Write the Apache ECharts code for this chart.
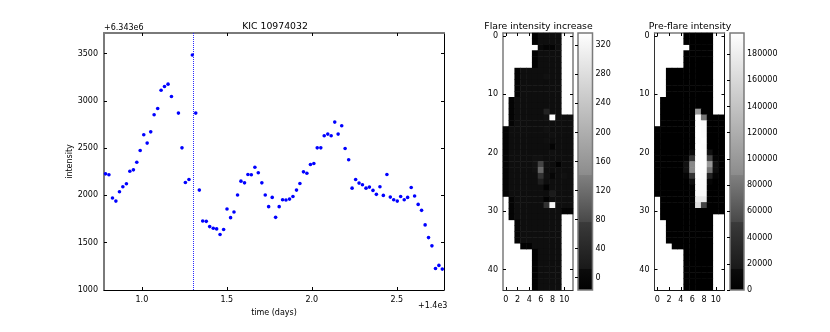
<!DOCTYPE html>
<html><head><meta charset="utf-8">
<style>html,body{margin:0;padding:0;background:#fff}#c{width:830px;height:332px}</style>
<script src="https://cdn.jsdelivr.net/npm/echarts@6/dist/echarts.min.js"></script>
</head><body><div id="c"></div>
<script>
const times=[0.786,0.806,0.827,0.847,0.868,0.888,0.909,0.929,0.950,0.970,0.990,1.011,1.031,1.052,1.072,1.093,1.113,1.133,1.154,1.174,1.215,1.236,1.256,1.277,1.297,1.317,1.338,1.358,1.379,1.399,1.420,1.440,1.460,1.481,1.501,1.522,1.542,1.563,1.583,1.604,1.624,1.644,1.665,1.685,1.706,1.726,1.746,1.767,1.787,1.808,1.828,1.848,1.869,1.889,1.910,1.930,1.951,1.971,1.992,2.012,2.032,2.053,2.073,2.094,2.114,2.135,2.155,2.176,2.196,2.217,2.237,2.258,2.278,2.298,2.319,2.339,2.360,2.380,2.401,2.421,2.442,2.462,2.482,2.503,2.523,2.544,2.564,2.585,2.605,2.626,2.646,2.667,2.687,2.707,2.728,2.748,2.768];
const intensity=[2228,2218,1972,1940,2039,2091,2123,2256,2270,2351,2475,2641,2553,2672,2852,2919,3112,3151,3176,3046,2870,2503,2137,2168,3485,2870,2056,1730,1726,1670,1653,1646,1586,1639,1856,1765,1825,2004,2151,2133,2221,2218,2298,2239,2133,2004,1881,1979,1768,1881,1954,1951,1961,1989,2056,2126,2249,2235,2327,2337,2503,2503,2630,2648,2630,2775,2648,2736,2496,2377,2077,2168,2130,2112,2077,2088,2053,2011,2091,2000,2221,1982,1954,1940,1989,1954,1979,2084,1993,1905,1842,1688,1554,1467,1228,1260,1221];
const flareTime=[1.2965];
const xTicks=[1.0,1.5,2.0,2.5];
const yTicks=[1000,1500,2000,2500,3000,3500];
const flareBarTicks=[0,40,80,120,160,200,240,280,320];
const preBarTicks=[0,20000,40000,60000,80000,100000,120000,140000,160000,180000];
const columns=['0','1','2','3','4','5','6','7','8','9','10','11'];
const rowsIdx=['0','1','2','3','4','5','6','7','8','9','10','11','12','13','14','15','16','17','18','19','20','21','22','23','24','25','26','27','28','29','30','31','32','33','34','35','36','37','38','39','40','41','42','43'];
const _=null;
const flareIncrease=[
[_,_,_,_,_,-14,3,3,3,3,_,_],
[_,_,_,_,_,-14,3,3,3,3,_,_],
[_,_,_,_,_,_,-5,-12,-12,3,_,_],
[_,_,_,_,_,-14,3,3,3,3,_,_],
[_,_,_,_,_,-14,3,3,3,3,_,_],
[_,_,_,_,_,-14,3,3,3,3,_,_],
[_,_,-12,3,3,3,3,3,3,3,_,_],
[_,_,-12,3,3,3,3,6,3,3,_,_],
[_,_,-12,3,3,3,3,1,3,3,_,_],
[_,_,-12,3,3,3,3,3,3,3,_,_],
[_,_,-12,3,3,3,3,3,3,3,_,_],
[_,-12,3,3,3,3,3,3,3,3,_,_],
[_,-12,3,3,3,3,3,3,3,3,_,_],
[_,-12,3,3,3,3,3,30,3,3,_,_],
[_,-12,3,3,3,3,3,6,337,3,3,3],
[_,-12,3,3,3,3,3,3,3,3,3,3],
[-12,3,3,3,3,3,3,6,1,3,3,3],
[-12,3,3,3,3,3,3,3,5,3,3,3],
[-12,3,3,3,3,3,3,5,1,3,3,3],
[-12,3,3,3,3,3,3,3,-12,3,3,3],
[-12,3,3,3,3,3,3,3,5,3,3,3],
[-12,3,3,3,3,6,6,3,3,3,3,3],
[-12,3,3,3,3,8,77,5,1,-15,3,3],
[-12,3,3,3,3,6,125,3,1,3,3,3],
[-12,3,3,3,3,3,53,5,-8,3,6,3],
[-12,3,3,3,3,3,25,3,3,3,3,3],
[-12,3,3,3,3,3,3,-14,3,3,3,3],
[-12,3,3,3,3,3,3,1,20,3,3,3],
[_,-12,3,3,3,3,3,-14,3,3,3,3],
[_,-12,3,3,3,3,3,53,325,3,3,3],
[_,-12,3,3,3,3,3,3,3,3,-12,-12],
[_,-12,3,3,3,3,3,3,3,3,_,_],
[_,_,-12,3,3,3,3,3,3,3,_,_],
[_,_,-12,3,3,3,3,3,3,3,_,_],
[_,_,-12,3,3,3,3,3,3,3,_,_],
[_,_,-12,3,3,3,3,3,3,3,_,_],
[_,_,_,-14,-14,3,3,3,3,3,_,_],
[_,_,_,_,_,-14,3,3,3,3,_,_],
[_,_,_,_,_,-14,3,3,3,3,_,_],
[_,_,_,_,_,-14,3,3,3,3,_,_],
[_,_,_,_,_,-14,3,3,3,3,_,_],
[_,_,_,_,_,-14,3,3,3,3,_,_],
[_,_,_,_,_,-14,3,3,3,3,_,_],
[_,_,_,_,_,-14,3,3,3,3,_,_]];
const preFlare=[
[_,_,_,_,_,300,300,300,300,300,_,_],
[_,_,_,_,_,300,300,300,300,300,_,_],
[_,_,_,_,_,_,300,300,300,300,_,_],
[_,_,_,_,_,300,300,300,300,300,_,_],
[_,_,_,_,_,300,300,300,300,300,_,_],
[_,_,_,_,_,300,300,300,300,300,_,_],
[_,_,300,300,300,300,300,300,300,300,_,_],
[_,_,300,300,300,300,300,300,300,300,_,_],
[_,_,300,300,300,300,300,300,300,300,_,_],
[_,_,300,300,300,300,300,300,300,300,_,_],
[_,_,300,300,300,300,300,300,300,300,_,_],
[_,300,300,300,300,300,300,300,300,300,_,_],
[_,300,300,300,300,300,300,300,300,300,_,_],
[_,300,300,300,300,300,300,117000,300,300,_,_],
[_,300,300,300,300,300,300,195000,90000,300,300,300],
[_,300,300,300,300,300,300,194000,192000,300,300,300],
[300,300,300,300,300,300,300,195000,193000,300,300,300],
[300,300,300,300,300,300,300,195000,194000,300,300,300],
[300,300,300,300,300,300,300,194000,195000,300,300,300],
[300,300,300,300,300,300,300,195000,194000,300,300,300],
[300,300,300,300,300,300,8000,195000,195000,13000,300,300],
[300,300,300,300,300,3000,40000,195000,195000,52000,3000,300],
[300,300,300,300,300,13000,105000,195000,195000,117000,10000,300],
[300,300,300,300,300,13000,105000,195000,195000,90000,10000,300],
[300,300,300,300,300,3000,40000,195000,194000,26000,3000,300],
[300,300,300,300,300,300,10000,193000,193000,4000,300,300],
[300,300,300,300,300,300,300,192000,192000,300,300,300],
[300,300,300,300,300,300,300,191000,191000,300,300,300],
[_,300,300,300,300,300,300,180000,180000,300,300,300],
[_,300,300,300,300,300,300,170000,52000,300,300,300],
[_,300,300,300,300,300,300,300,300,300,300,300],
[_,300,300,300,300,300,300,300,300,300,_,_],
[_,_,300,300,300,300,300,300,300,300,_,_],
[_,_,300,300,300,300,300,300,300,300,_,_],
[_,_,300,300,300,300,300,300,300,300,_,_],
[_,_,300,300,300,300,300,300,300,300,_,_],
[_,_,_,300,300,300,300,300,300,300,_,_],
[_,_,_,_,_,300,300,300,300,300,_,_],
[_,_,_,_,_,300,300,300,300,300,_,_],
[_,_,_,_,_,300,300,300,300,300,_,_],
[_,_,_,_,_,300,300,300,300,300,_,_],
[_,_,_,_,_,300,300,300,300,300,_,_],
[_,_,_,_,_,300,300,300,300,300,_,_],
[_,_,_,_,_,300,300,300,300,300,_,_]];

const FONT='DejaVu Sans', TXT='#000', GRAY='#7a7a7a';
const points=times.map((t,i)=>[t,intensity[i]]);
const cells=m=>{const o=[];m.forEach((r,y)=>r.forEach((v,x)=>{if(v!==null)o.push([x,y,v]);}));return o;};
const line=(c,w)=>({show:true,onZero:false,lineStyle:{color:c,width:w}});
const tick=(c,vals,extra)=>Object.assign({show:true,inside:true,length:3,lineStyle:{color:c||'#000',width:1}},vals?{customValues:vals}:{},extra||{});
const lab=(extra)=>Object.assign({color:TXT,fontFamily:FONT,fontSize:8},extra||{});
const plain=v=>String(v);
const barGrad={type:'linear',x:0,y:0,x2:0,y2:1,colorStops:[
 {offset:0,color:'#ffffff'},{offset:.552,color:'#8c8c8c'},{offset:.553,color:'#808080'},
 {offset:.735,color:'#484848'},{offset:.736,color:'#3a3a3a'},{offset:.914,color:'#191919'},
 {offset:.915,color:'#0c0c0c'},{offset:1,color:'#000000'}]};

const grids=[
 {left:104,top:33,width:340,height:257},
 {left:503,top:33,width:70,height:257},
 {left:578,top:33,width:14.5,height:257,show:true,backgroundColor:barGrad,borderColor:GRAY,borderWidth:1.5},
 {left:654.5,top:33,width:70,height:257},
 {left:730,top:33,width:14,height:257,show:true,backgroundColor:barGrad,borderColor:GRAY,borderWidth:1.5}
];
const xAxes=[
 {gridIndex:0,type:'value',min:0.777,max:2.778,position:'bottom',splitLine:{show:false},
  axisLine:line('#000',1),axisTick:tick('#000',xTicks),
  axisLabel:lab({customValues:xTicks,margin:6,formatter:v=>v.toFixed(1)}),
  name:'time (days)',nameLocation:'middle',nameGap:11,nameTextStyle:lab()},
 {gridIndex:0,type:'value',min:0.777,max:2.778,position:'top',splitLine:{show:false},
  axisLine:line(GRAY,2),axisTick:tick('#000',xTicks),axisLabel:{show:false}},
 {gridIndex:1,type:'category',data:columns,position:'bottom',splitLine:{show:false},axisLine:line('#333',1),
  axisTick:tick('#000',null,{alignWithLabel:true,interval:1}),axisLabel:lab({interval:1,margin:6})},
 {gridIndex:1,type:'category',data:columns,position:'top',splitLine:{show:false},axisLine:line(GRAY,1.5),
  axisTick:tick('#000',null,{alignWithLabel:true,interval:1}),axisLabel:{show:false}},
 {gridIndex:2,type:'value',min:0,max:1,show:false},
 {gridIndex:3,type:'category',data:columns,position:'bottom',splitLine:{show:false},axisLine:line('#111',1),
  axisTick:tick('#000',null,{alignWithLabel:true,interval:1}),axisLabel:lab({interval:1,margin:6})},
 {gridIndex:3,type:'category',data:columns,position:'top',splitLine:{show:false},axisLine:line(GRAY,1.5),
  axisTick:tick('#000',null,{alignWithLabel:true,interval:1}),axisLabel:{show:false}},
 {gridIndex:4,type:'value',min:0,max:1,show:false}
];
const yAxes=[
 {gridIndex:0,type:'value',min:1000,max:3717,position:'left',splitLine:{show:false},
  axisLine:line(GRAY,2),axisTick:tick('#000',yTicks),axisLabel:lab({customValues:yTicks,margin:6,formatter:plain}),
  name:'intensity',nameLocation:'middle',nameGap:29,nameRotate:90,nameTextStyle:lab()},
 {gridIndex:0,type:'value',min:1000,max:3717,position:'right',splitLine:{show:false},
  axisLine:line('#000',1),axisTick:tick('#000',yTicks),axisLabel:{show:false}},
 {gridIndex:1,type:'category',data:rowsIdx,inverse:true,position:'left',splitLine:{show:false},axisLine:line(GRAY,1.5),
  axisTick:tick('#000',null,{alignWithLabel:true,interval:9}),axisLabel:lab({interval:9,margin:5})},
 {gridIndex:1,type:'category',data:rowsIdx,inverse:true,position:'right',splitLine:{show:false},axisLine:line(GRAY,1.5),
  axisTick:tick('#000',null,{alignWithLabel:true,interval:9}),axisLabel:{show:false}},
 {gridIndex:2,type:'value',min:-17,max:337,position:'right',splitLine:{show:false},axisLine:{show:false},
  axisTick:tick('#000',flareBarTicks),axisLabel:lab({customValues:flareBarTicks,margin:3,formatter:plain})},
 {gridIndex:3,type:'category',data:rowsIdx,inverse:true,position:'left',splitLine:{show:false},axisLine:line('#333',1),
  axisTick:tick('#000',null,{alignWithLabel:true,interval:9}),axisLabel:lab({interval:9,margin:5})},
 {gridIndex:3,type:'category',data:rowsIdx,inverse:true,position:'right',splitLine:{show:false},axisLine:line('#111',1),
  axisTick:tick('#000',null,{alignWithLabel:true,interval:9}),axisLabel:{show:false}},
 {gridIndex:4,type:'value',min:0,max:196000,position:'right',splitLine:{show:false},axisLine:{show:false},
  axisTick:tick('#000',preBarTicks),axisLabel:lab({customValues:preBarTicks,margin:3,formatter:plain})}
];
const titleText=(t,x,y)=>({text:t,left:x,top:y,textAlign:'center',textStyle:{fontFamily:FONT,fontSize:9.3,fontWeight:'normal',color:TXT}});
const chart=echarts.init(document.getElementById('c'),null,{renderer:'canvas'});
chart.setOption({
 animation:false,backgroundColor:'#fff',
 title:[titleText('KIC 10974032',270,17),titleText('Flare intensity increase',533.5,17),titleText('Pre-flare intensity',685,17)],
 grid:grids,xAxis:xAxes,yAxis:yAxes,
 visualMap:[
  {show:false,type:'continuous',seriesIndex:1,min:-17,max:337,dimension:2,inRange:{color:['#000','#fff']}},
  {show:false,type:'continuous',seriesIndex:2,min:0,max:196000,dimension:2,inRange:{color:['#000','#fff']}}
 ],
 series:[
  {type:'scatter',xAxisIndex:0,yAxisIndex:0,data:points,symbolSize:3.6,itemStyle:{color:'#0000ff',opacity:1},
   markLine:{silent:true,symbol:'none',label:{show:false},lineStyle:{color:'#2a2aff',type:[1,1],width:1,opacity:1},
    data:flareTime.map(t=>({xAxis:t}))}},
  {type:'heatmap',xAxisIndex:2,yAxisIndex:2,data:cells(flareIncrease),z:1},
  {type:'heatmap',xAxisIndex:5,yAxisIndex:5,data:cells(preFlare),z:1}
 ],
 graphic:[
  {type:'text',left:104,top:24,style:{text:'+6.343e6',font:'8px "DejaVu Sans"',fill:TXT}},
  {type:'text',left:418,top:302,style:{text:'+1.4e3',font:'8px "DejaVu Sans"',fill:TXT}}
 ]
});
</script></body></html>
